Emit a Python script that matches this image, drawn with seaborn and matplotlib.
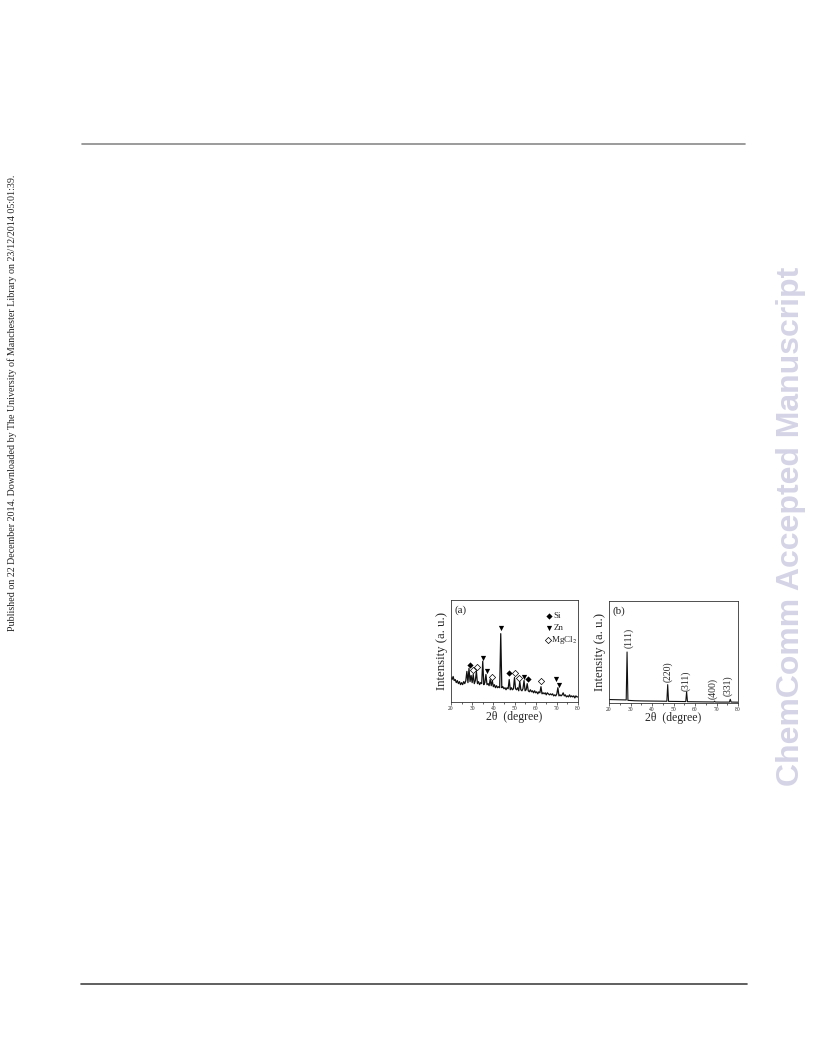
import numpy as np
import pandas as pd
import seaborn as sb
from matplotlib import pyplot as plt
from matplotlib.ticker import MultipleLocator

# panel (a) pattern
twoThetaA = [20.0, 20.5, 21.0, 21.5, 22.0, 22.5, 23.0, 23.5, 24.0, 24.5,
             25.0, 25.5, 26.0, 26.5, 27.0, 27.5, 28.0, 28.5, 29.0, 29.5,
             30.0, 30.5, 31.0, 31.5, 32.0, 32.5, 33.0, 33.5, 34.0, 34.5,
             35.0, 35.5, 36.0, 36.5, 37.0, 37.5, 38.0, 38.5, 39.0, 39.5,
             40.0, 40.5, 41.0, 41.5, 42.0, 42.5, 43.0, 43.5, 44.0, 44.5,
             45.0, 45.5, 46.0, 46.5, 47.0, 47.5, 48.0, 48.5, 49.0, 49.5,
             50.0, 50.5, 51.0, 51.5, 52.0, 52.5, 53.0, 53.5, 54.0, 54.5,
             55.0, 55.5, 56.0, 56.5, 57.0, 57.5, 58.0, 58.5, 59.0, 59.5,
             60.0, 60.5, 61.0, 61.5, 62.0, 62.5, 63.0, 63.5, 64.0, 64.5,
             65.0, 65.5, 66.0, 66.5, 67.0, 67.5, 68.0, 68.5, 69.0, 69.5,
             70.0, 70.5, 71.0, 71.5, 72.0, 72.5, 73.0, 73.5, 74.0, 74.5,
             75.0, 75.5, 76.0, 76.5, 77.0, 77.5, 78.0, 78.5, 79.0, 79.5,
             80.0]
intensityA = [24, 22, 25, 21, 22, 19, 21, 18, 20, 17,
              19, 17, 20, 18, 21, 30, 19, 33, 20, 26,
              19, 27, 18, 21, 30, 18, 20, 17, 19, 18,
              40, 17, 19, 27, 17, 18, 16, 22, 16, 21,
              15, 17, 14, 16, 14, 15, 14, 67, 14, 15,
              13, 14, 12, 14, 13, 22, 12, 14, 12, 13,
              24, 13, 12, 14, 11, 20, 12, 11, 13, 21,
              11, 12, 18, 11, 10, 12, 10, 11, 9, 11,
              9, 10, 8, 10, 9, 15, 8, 9, 8, 9,
              7, 9, 8, 7, 8, 7, 8, 6, 7, 6,
              8, 14, 6, 7, 6, 7, 9, 6, 7, 5,
              6, 5, 7, 5, 6, 5, 6, 4, 6, 5,
              5]

# phase markers in panel (a)
siX = [28.9, 47.5, 56.4]
siY = [36, 28, 23]
znX = [35.2, 37.1, 43.6, 54.6, 69.8, 71.0]
znY = [43, 30, 73, 25, 23, 17]
mgX = [30.5, 32.4, 39.5, 50.3, 52.2, 62.4]
mgY = [31, 34, 25, 28.5, 24, 21]

# panel (b) pattern
twoThetaB = [20, 24, 28.0, 28.4, 28.8, 32, 36, 40, 44, 46.9, 47.3, 47.7,
             52, 55.7, 56.1, 56.5, 60, 64, 68.8, 69.1, 69.4, 72, 76.0, 76.4,
             76.8, 80]
intensityB = [3.4, 3.2, 3.0, 50, 2.6, 2.2, 2.0, 1.9, 1.8, 1.7, 18, 1.6,
              1.5, 1.4, 11, 1.3, 1.2, 1.1, 1.0, 1.8, 1.0, 0.9, 0.9, 3.6,
              0.9, 0.8]
peakLabels = ['(111)', '(220)', '(311)', '(400)', '(331)']
peakX = [29.2, 47.4, 55.8, 68.3, 75.3]
peakY = [54, 20.5, 11.5, 4, 6.5]

dfA = pd.DataFrame({'x': twoThetaA, 'y': intensityA})
dfB = pd.DataFrame({'x': twoThetaB, 'y': intensityB})

sb.set_style('ticks')
plt.rcParams['font.family'] = ['Liberation Serif', 'DejaVu Serif']
plt.rcParams['mathtext.fontset'] = 'stix'

fig = plt.figure(figsize=(8.16, 10.56), dpi=100)

# page furniture
fig.add_artist(plt.Line2D([82 / 816, 745 / 816], [1 - 144 / 1056] * 2, color='#8a8a8a', lw=1.2))
fig.add_artist(plt.Line2D([81 / 816, 747 / 816], [1 - 983.5 / 1056] * 2, color='#444444', lw=1.2))
fig.text(12 / 816, 1 - 403 / 1056,
         'Published on 22 December 2014. Downloaded by The University of Manchester Library on 23/12/2014 05:01:39.',
         rotation=90, ha='center', va='center', fontsize=7.2, color='#222222')
fig.text(791 / 816, 1 - 526 / 1056, 'ChemComm Accepted Manuscript', rotation=90,
         ha='center', va='center', fontsize=23, fontweight='bold', color='#d4d4e6',
         family=['Liberation Sans', 'DejaVu Sans'])


def styleAxes(ax):
    ax.set_xlim(20, 80)
    ax.set_ylim(0, 100)
    ax.set_yticks([])
    ax.xaxis.set_major_locator(MultipleLocator(10))
    ax.xaxis.set_minor_locator(MultipleLocator(5))
    ax.tick_params(axis='x', which='major', direction='out', length=2, width=0.5, labelsize=4, pad=1)
    ax.tick_params(axis='x', which='minor', direction='out', length=1.2, width=0.5)
    for s in ax.spines.values():
        s.set_linewidth(0.6)
        s.set_color('#333333')
    ax.set_xlabel('2θ  (degree)', fontsize=8.5, labelpad=0)
    ax.set_ylabel('Intensity (a. u.)', fontsize=9.2, labelpad=2)


# (a)
axA = fig.add_axes([451 / 816, 1 - 702 / 1056, 127 / 816, 102 / 1056])
sb.lineplot(data=dfA, x='x', y='y', ax=axA, color='#111111', lw=0.9)
axA.scatter(siX, siY, marker='D', s=10, color='black', lw=0)
axA.scatter(znX, znY, marker='v', s=14, color='black', lw=0)
axA.scatter(mgX, mgY, marker='D', s=10, facecolor='white', edgecolor='black', lw=0.5)
styleAxes(axA)
axA.text(0.03, 0.95, '(a)', transform=axA.transAxes, ha='left', va='top', fontsize=8)
axA.scatter([0.77], [0.84], marker='D', s=10, color='black', lw=0, transform=axA.transAxes, clip_on=False)
axA.scatter([0.77], [0.73], marker='v', s=14, color='black', lw=0, transform=axA.transAxes, clip_on=False)
axA.scatter([0.76], [0.61], marker='D', s=10, facecolor='white', edgecolor='black', lw=0.5, transform=axA.transAxes, clip_on=False)
axA.text(0.81, 0.84, 'Si', transform=axA.transAxes, va='center', fontsize=6.5)
axA.text(0.81, 0.73, 'Zn', transform=axA.transAxes, va='center', fontsize=6.5)
axA.text(0.79, 0.61, r'MgCl$_2$', transform=axA.transAxes, va='center', fontsize=6.5)

# (b)
axB = fig.add_axes([609 / 816, 1 - 703 / 1056, 129 / 816, 102 / 1056])
sb.lineplot(data=dfB, x='x', y='y', ax=axB, color='#111111', lw=0.8)
styleAxes(axB)
axB.text(0.03, 0.95, '(b)', transform=axB.transAxes, ha='left', va='top', fontsize=8)
for lab, px, py in zip(peakLabels, peakX, peakY):
    axB.text(px, py, lab, rotation=90, ha='center', va='bottom', fontsize=7)

plt.savefig('out.png', dpi=100)
